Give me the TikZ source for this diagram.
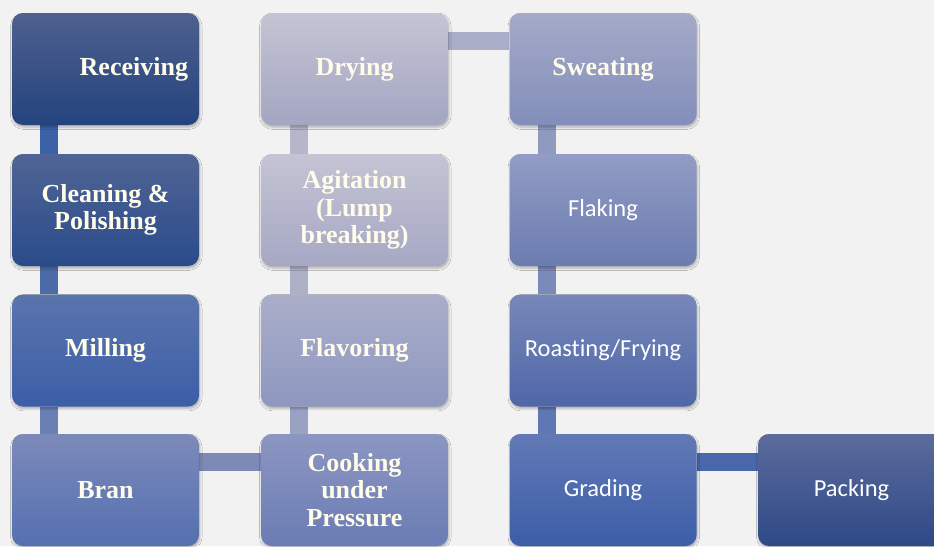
\documentclass[tikz,border=0pt]{standalone}
\usepackage{fontspec}
\setmainfont{Liberation Serif}
\newfontfamily\sansfam[Ligatures={NoCommon,NoRequired,NoContextual}]{Carlito}
\usetikzlibrary{backgrounds,shadows.blur}
\definecolor{bg}{HTML}{F2F2F2}
\definecolor{ivory}{HTML}{FFFCEA}
% box gradients
\definecolor{recT}{HTML}{4E608E}\definecolor{recB}{HTML}{24437E}
\definecolor{cleT}{HTML}{506495}\definecolor{cleB}{HTML}{2A4B8B}
\definecolor{milT}{HTML}{5A74AC}\definecolor{milB}{HTML}{3C5EA8}
\definecolor{braT}{HTML}{7C8AB9}\definecolor{braB}{HTML}{5470B0}
\definecolor{dryT}{HTML}{C4C4D4}\definecolor{dryB}{HTML}{A4A6C2}
\definecolor{agiT}{HTML}{C4C4D4}\definecolor{agiB}{HTML}{A6A8C4}
\definecolor{flaT}{HTML}{AAAECA}\definecolor{flaB}{HTML}{8E97BF}
\definecolor{cooT}{HTML}{8C96C2}\definecolor{cooB}{HTML}{6A7CB4}
\definecolor{sweT}{HTML}{A5AAC8}\definecolor{sweB}{HTML}{828EBA}
\definecolor{flkT}{HTML}{929CC4}\definecolor{flkB}{HTML}{6B7CB0}
\definecolor{roaT}{HTML}{7787B9}\definecolor{roaB}{HTML}{4F67A8}
\definecolor{graT}{HTML}{6279B6}\definecolor{graB}{HTML}{3C5DA8}
\definecolor{pacT}{HTML}{5B6B9B}\definecolor{pacB}{HTML}{2E4987}
% connector colours
\definecolor{lA}{HTML}{3B62A6}\definecolor{lB}{HTML}{4D6AA8}\definecolor{lC}{HTML}{6A80B4}
\definecolor{lD}{HTML}{7D8AB8}\definecolor{lE}{HTML}{9AA2C4}\definecolor{lF}{HTML}{AEB0C8}
\definecolor{lG}{HTML}{B6B6CA}\definecolor{lH}{HTML}{AAAEC8}\definecolor{lI}{HTML}{909AC0}
\definecolor{lJ}{HTML}{7C8ABA}\definecolor{lK}{HTML}{5F78B4}\definecolor{lL}{HTML}{4A67AA}
\tikzset{
  box/.style={rounded corners=11pt, minimum width=187pt, minimum height=112pt,
    inner sep=0pt, align=center,
    blur shadow={shadow blur steps=5, shadow xshift=0.8pt, shadow yshift=-2.2pt, shadow opacity=28, shadow blur radius=2.2pt}},
  serif/.style={box, text=ivory, font=\fontsize{26}{27.5}\selectfont\bfseries},
  sans/.style={box, text=white, font=\sansfam\fontsize{24.5}{27}\selectfont},
  grad/.style={top color=#1T, bottom color=#1B},
  link/.style={line width=18pt, draw=#1}
}
\begin{document}
\begin{tikzpicture}[x=1pt,y=-1pt]
\useasboundingbox (0,0) rectangle (934,546);
% column 1
\node[serif, grad=rec, text width=165pt, align=right] (rec) at (105.5,69) {Receiving};
\node[serif, grad=cle] (cle) at (105.5,210) {Cleaning \&\\Polishing};
\node[serif, grad=mil] (mil) at (105.5,350.5) {Milling};
\node[serif, grad=bra] (bra) at (105.5,490) {Bran};
% column 2
\node[serif, grad=dry] (dry) at (354.5,69) {Drying};
\node[serif, grad=agi] (agi) at (354.5,210) {Agitation\\(Lump\\breaking)};
\node[serif, grad=fla] (fla) at (354.5,350.5) {Flavoring};
\node[serif, grad=coo] (coo) at (354.5,490) {Cooking\\under\\Pressure};
% column 3
\node[serif, grad=swe] (swe) at (603,69) {Sweating};
\node[sans, grad=flk] (flk) at (603,210) {Flaking};
\node[sans, grad=roa] (roa) at (603,350.5) {Roasting/Frying};
\node[sans, grad=gra] (gra) at (603,490) {Grading};
% column 4
\node[sans, grad=pac] (pac) at (851.5,490) {Packing};
\begin{scope}[on background layer]
\fill[bg] (0,0) rectangle (934,546);
\draw[link=lA] ([xshift=37.5pt]rec.south west) -- ([xshift=37.5pt]cle.north west);
\draw[link=lB] ([xshift=37.5pt]cle.south west) -- ([xshift=37.5pt]mil.north west);
\draw[link=lC] ([xshift=37.5pt]mil.south west) -- ([xshift=37.5pt]bra.north west);
\draw[link=lD] ([yshift=-28pt]bra.north east) -- ([yshift=-28pt]coo.north west);
\draw[link=lE] ([xshift=38pt]coo.north west) -- ([xshift=38pt]fla.south west);
\draw[link=lF] ([xshift=38pt]fla.north west) -- ([xshift=38pt]agi.south west);
\draw[link=lG] ([xshift=38pt]agi.north west) -- ([xshift=38pt]dry.south west);
\draw[link=lH] ([yshift=-28pt]dry.north east) -- ([yshift=-28pt]swe.north west);
\draw[link=lI] ([xshift=37.5pt]swe.south west) -- ([xshift=37.5pt]flk.north west);
\draw[link=lJ] ([xshift=37.5pt]flk.south west) -- ([xshift=37.5pt]roa.north west);
\draw[link=lK] ([xshift=37.5pt]roa.south west) -- ([xshift=37.5pt]gra.north west);
\draw[link=lL] ([yshift=-28pt]gra.north east) -- ([yshift=-28pt]pac.north west);
\end{scope}
\end{tikzpicture}
\end{document}
